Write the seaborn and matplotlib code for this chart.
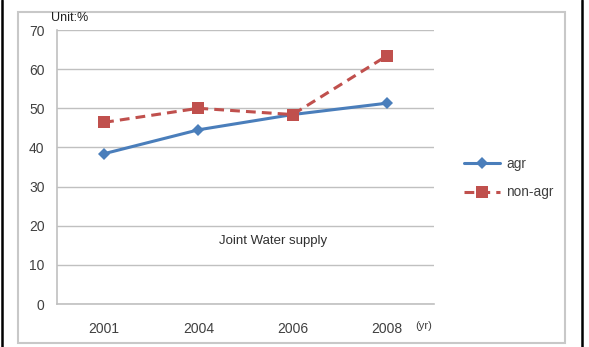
"""
Joint water supply share, agr vs non-agr, 2001-2008 (Excel-style line chart).
"""

import seaborn as sns
import matplotlib.pyplot as plt
import pandas as pd
from matplotlib.patches import Rectangle
from matplotlib.lines import Line2D

# data
years = ["2001", "2004", "2006", "2008"]
agr = [38.4, 44.5, 48.4, 51.3]
non_agr = [46.4, 50.0, 48.4, 63.4]

df = pd.DataFrame({
    "pos": list(range(len(years))) * 2,
    "value": agr + non_agr,
    "series": ["agr"] * len(years) + ["non-agr"] * len(years),
})

sns.set_style("white")
plt.rcParams["font.family"] = ["Liberation Sans", "DejaVu Sans"]

palette = {"agr": "#4a7ebb", "non-agr": "#c0504d"}
text_col = "#404040"
grid_col = "#c0c0c0"

fig = plt.figure(figsize=(5.89, 3.47), dpi=100)
ax = fig.add_axes([57 / 589, 1 - 304 / 347, (434 - 57) / 589, (304 - 30) / 347])

sns.lineplot(
    data=df, x="pos", y="value", hue="series", style="series",
    palette=palette,
    markers={"agr": "D", "non-agr": "s"},
    dashes={"agr": "", "non-agr": (3.2, 2)},
    markersize=8, linewidth=2.2, markeredgewidth=0,
    legend=False, ax=ax,
)
# slightly smaller diamonds than squares
for ln in ax.get_lines():
    if ln.get_marker() == "D":
        ln.set_markersize(6.5)

ax.set_xlim(-0.5, len(years) - 0.5)
ax.set_ylim(0, 70)
ax.set_yticks(range(0, 71, 10))
ax.set_xticks(range(len(years)))
ax.set_xticklabels(years)
ax.set_xticks([i - 0.5 for i in range(len(years) + 1)], minor=True)
ax.tick_params(axis="x", which="major", length=0, pad=13, labelsize=10, labelcolor=text_col)
ax.tick_params(axis="x", which="minor", length=4, color=grid_col, direction="out")
ax.tick_params(axis="y", length=4, color=grid_col, direction="out", pad=5,
               labelsize=10, labelcolor=text_col)
ax.yaxis.grid(True, color=grid_col, linewidth=1)
ax.set_axisbelow(True)
for s in ["top", "right"]:
    ax.spines[s].set_visible(False)
for s in ["left", "bottom"]:
    ax.spines[s].set_color(grid_col)
    ax.spines[s].set_linewidth(1.2)
ax.set_xlabel("")
ax.set_ylabel("")

# annotations
fig.text(51 / 589, 1 - 18 / 347, "Unit:%", fontsize=9, color="#202020", va="center")
ax.text(1.79, 16, "Joint Water supply", fontsize=9.5, color="#303030", ha="center", va="center")
fig.text(415 / 589, 1 - 326 / 347, "(yr)", fontsize=8, color=text_col, va="center")

# legend
handles = [
    Line2D([], [], color=palette["agr"], marker="D", markersize=6.5, markeredgewidth=0, linewidth=2.2),
    Line2D([], [], color=palette["non-agr"], marker="s", markersize=8, markeredgewidth=0,
           linewidth=2.2, dashes=(3.2, 2)),
]
fig.legend(handles, ["agr", "non-agr"], loc="center left",
           bbox_to_anchor=(452 / 589, 1 - 178 / 347), frameon=False,
           fontsize=9.8, labelcolor=text_col, handlelength=2.6, handletextpad=0.5,
           labelspacing=1.1)

# gray chart frame and outer black rules
fig.patches.append(Rectangle((18 / 589, 1 - 343 / 347), (565 - 18) / 589, (343 - 12) / 347,
                             transform=fig.transFigure, fill=False,
                             edgecolor="#c8c8c8", linewidth=1.5))
for x in (2 / 589, 582 / 589):
    fig.add_artist(Line2D([x, x], [0, 1], transform=fig.transFigure, color="black", linewidth=1.8))

plt.savefig("out.png", dpi=100)
